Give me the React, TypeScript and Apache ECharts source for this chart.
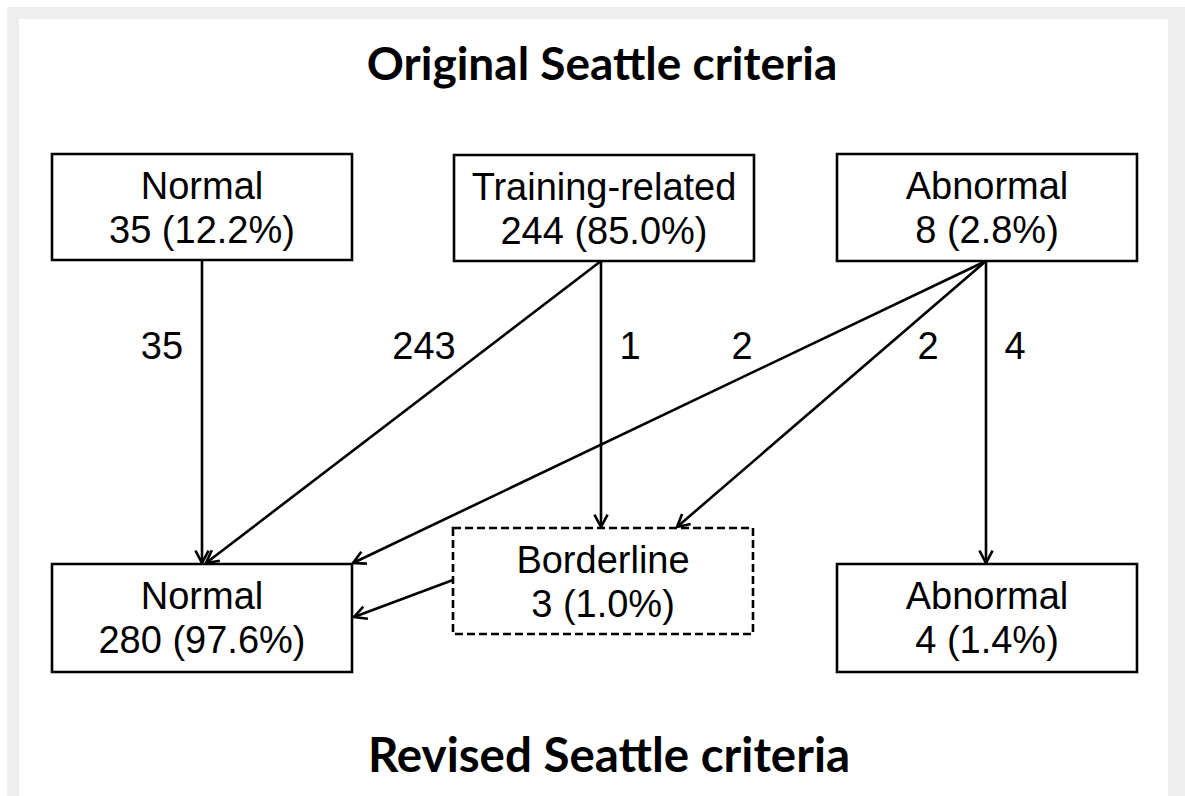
import React, { useEffect, useRef } from "react";
import * as echarts from "echarts";

// ---------- data ----------
const titleTop = "Original Seattle criteria";
const titleBottom = "Revised Seattle criteria";

const nodeNames = ["Normal", "Training-related", "Abnormal", "Normal", "Borderline", "Abnormal"];
const nodeCounts = [35, 244, 8, 280, 3, 4];
const nodePercents = ["12.2%", "85.0%", "2.8%", "97.6%", "1.0%", "1.4%"];

const flowSources = [0, 1, 1, 2, 2, 2, 4];
const flowTargets = [3, 3, 4, 3, 4, 5, 3];
const flowCounts: (number | null)[] = [35, 243, 1, 2, 2, 4, null];

// ---------- layout (pixel space of the 1185 x 796 canvas) ----------
const W = 1185;
const H = 796;
const nodeBoxes = [
  [52, 154, 300, 106],
  [454, 155, 300, 106],
  [837, 154, 300, 107],
  [52, 564, 300, 108],
  [453, 528, 300, 106],
  [837, 564, 300, 108],
];
const nodeDashed = [false, false, false, false, true, false];
const flowPaths = [
  [[202, 260], [202, 563]],
  [[601, 261], [206, 563]],
  [[601, 261], [601, 527]],
  [[986, 261], [353, 563]],
  [[986, 261], [677, 527]],
  [[986, 261], [986, 563]],
  [[453, 580], [354, 617]],
];
const flowLabelPos: (number[] | null)[] = [
  [162, 346],
  [424, 346],
  [630, 346],
  [742, 346],
  [928, 346],
  [1015, 346],
  null,
];

const boxFont = '38px "Liberation Sans", Arial, sans-serif';
const titleFontTop = 'bold 46px Lato, "Open Sans", sans-serif';
const titleFontBottom = 'bold 47.5px Lato, "Open Sans", sans-serif';

export default function App() {
  const ref = useRef<HTMLDivElement>(null);

  useEffect(() => {
    if (!ref.current) return;
    const chart = echarts.init(ref.current, null, { renderer: "svg" });

    const nodeData = nodeNames.map((name, i) => ({
      name,
      value: [nodeBoxes[i][0] + nodeBoxes[i][2] / 2, nodeBoxes[i][1] + nodeBoxes[i][3] / 2, nodeCounts[i]],
    }));

    const flowData = flowSources.map((s, i) => ({
      name: nodeNames[s] + " → " + nodeNames[flowTargets[i]],
      value: [flowPaths[i][0][0], flowPaths[i][0][1], flowPaths[i][1][0], flowPaths[i][1][1], flowCounts[i] ?? 0],
    }));

    const option: any = {
      animation: false,
      grid: { left: 0, right: 0, top: 0, bottom: 0 },
      xAxis: { type: "value", min: 0, max: W, show: false },
      yAxis: { type: "value", min: 0, max: H, inverse: true, show: false },
      graphic: [
        { type: "rect", z: -10, shape: { x: 7, y: 7, width: W - 7, height: H - 7 }, style: { fill: "#eeeeee" }, silent: true },
        { type: "rect", z: -9, shape: { x: 19, y: 19, width: 1168 - 19, height: H - 19 }, style: { fill: "#ffffff" }, silent: true },
        {
          type: "text",
          z: 10,
          x: 602,
          y: 62,
          style: { text: titleTop, font: titleFontTop, fill: "#000", align: "center", verticalAlign: "middle" },
        },
        {
          type: "text",
          z: 10,
          x: 609,
          y: 753,
          style: { text: titleBottom, font: titleFontBottom, fill: "#000", align: "center", verticalAlign: "middle" },
        },
      ],
      series: [
        {
          type: "custom",
          name: "flows",
          clip: false,
          data: flowData,
          renderItem: (params: any, api: any) => {
            const i = params.dataIndex;
            const p0 = api.coord([api.value(0), api.value(1)]);
            const p1 = api.coord([api.value(2), api.value(3)]);
            const a = Math.atan2(p1[1] - p0[1], p1[0] - p0[0]);
            const L = 14;
            const phi = (28 * Math.PI) / 180;
            const w1 = [p1[0] - L * Math.cos(a - phi), p1[1] - L * Math.sin(a - phi)];
            const w2 = [p1[0] - L * Math.cos(a + phi), p1[1] - L * Math.sin(a + phi)];
            const children: any[] = [
              { type: "line", shape: { x1: p0[0], y1: p0[1], x2: p1[0], y2: p1[1] }, style: { stroke: "#000", lineWidth: 2.6 } },
              { type: "polyline", shape: { points: [w1, p1, w2] }, style: { stroke: "#000", lineWidth: 2.6, fill: null } },
            ];
            const c = flowCounts[i];
            const lp = flowLabelPos[i];
            if (c !== null && lp) {
              const q = api.coord(lp);
              children.push({
                type: "text",
                style: { text: String(c), x: q[0], y: q[1], font: boxFont, fill: "#000", align: "center", verticalAlign: "middle" },
              });
            }
            return { type: "group", children };
          },
        },
        {
          type: "custom",
          name: "nodes",
          clip: false,
          z: 3,
          data: nodeData,
          renderItem: (params: any, api: any) => {
            const i = params.dataIndex;
            const b = nodeBoxes[i];
            const tl = api.coord([b[0], b[1]]);
            const br = api.coord([b[0] + b[2], b[1] + b[3]]);
            const cx = (tl[0] + br[0]) / 2;
            return {
              type: "group",
              children: [
                {
                  type: "rect",
                  shape: { x: tl[0], y: tl[1], width: br[0] - tl[0], height: br[1] - tl[1] },
                  style: {
                    fill: "#fff",
                    stroke: "#000",
                    lineWidth: 2.6,
                    lineDash: nodeDashed[i] ? [8, 4] : null,
                  },
                },
                {
                  type: "text",
                  style: { text: nodeNames[i], x: cx, y: tl[1] + 32, font: boxFont, fill: "#000", align: "center", verticalAlign: "middle" },
                },
                {
                  type: "text",
                  style: {
                    text: api.value(2) + " (" + nodePercents[i] + ")",
                    x: cx,
                    y: tl[1] + 76,
                    font: boxFont,
                    fill: "#000",
                    align: "center",
                    verticalAlign: "middle",
                  },
                },
              ],
            };
          },
        },
      ],
    };

    chart.setOption(option);
    return () => chart.dispose();
  }, []);

  return <div ref={ref} style={{ position: "absolute", left: 0, top: 0, width: W, height: H }} />;
}
